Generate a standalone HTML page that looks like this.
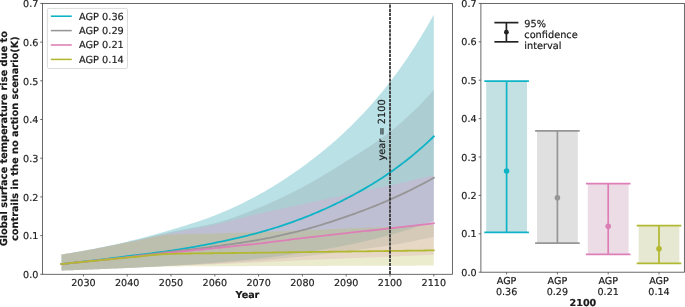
<!DOCTYPE html>
<html><head><meta charset="utf-8"><title>chart</title>
<style>html,body{margin:0;padding:0;background:#fff}svg{display:block}</style></head>
<body>
<svg width="685" height="307" viewBox="0 0 685 307" font-family='"DejaVu Sans", "Liberation Sans", sans-serif' font-size="9.6" fill="#1a1a1a" stroke="#1a1a1a" stroke-width="0.18" text-rendering="geometricPrecision">
<rect width="685" height="307" fill="#fff" stroke="none"/>
<polygon points="61.50,254.56 63.69,254.21 65.88,253.85 68.07,253.49 70.26,253.12 72.45,252.75 74.64,252.37 76.83,251.99 79.02,251.60 81.21,251.21 83.40,250.81 85.59,250.41 87.78,250.00 89.97,249.59 92.16,249.17 94.35,248.74 96.54,248.31 98.73,247.87 100.92,247.43 103.11,246.98 105.30,246.53 107.49,246.06 109.68,245.60 111.87,245.12 114.06,244.64 116.25,244.16 118.44,243.67 120.63,243.17 122.82,242.67 125.01,242.16 127.20,241.64 129.39,241.12 131.58,240.59 133.77,240.05 135.96,239.51 138.15,238.96 140.34,238.40 142.53,237.84 144.72,237.27 146.91,236.70 149.10,236.11 151.29,235.52 153.48,234.93 155.67,234.32 157.86,233.71 160.05,233.10 162.24,232.47 164.43,231.84 166.62,231.21 168.81,230.56 171.00,229.91 173.19,229.26 175.38,228.60 177.57,227.94 179.76,227.28 181.95,226.61 184.14,225.94 186.33,225.26 188.52,224.57 190.71,223.87 192.90,223.17 195.09,222.46 197.28,221.73 199.47,221.00 201.66,220.25 203.85,219.49 206.04,218.71 208.23,217.92 210.42,217.11 212.61,216.29 214.80,215.44 216.99,214.58 219.18,213.69 221.37,212.79 223.56,211.87 225.75,210.94 227.94,209.98 230.13,209.01 232.32,208.02 234.51,207.01 236.70,205.99 238.89,204.94 241.08,203.88 243.27,202.81 245.46,201.71 247.65,200.60 249.84,199.48 252.03,198.34 254.22,197.18 256.41,196.00 258.60,194.82 260.79,193.61 262.98,192.38 265.17,191.14 267.36,189.87 269.55,188.58 271.74,187.27 273.93,185.95 276.12,184.60 278.31,183.23 280.50,181.84 282.69,180.43 284.88,179.00 287.07,177.55 289.26,176.08 291.45,174.60 293.64,173.09 295.83,171.56 298.02,170.02 300.21,168.46 302.40,166.88 304.59,165.28 306.78,163.66 308.97,162.03 311.16,160.37 313.35,158.69 315.54,157.00 317.73,155.28 319.92,153.54 322.11,151.78 324.30,149.99 326.49,148.18 328.68,146.34 330.87,144.48 333.06,142.59 335.25,140.67 337.44,138.72 339.63,136.74 341.82,134.73 344.01,132.69 346.20,130.62 348.39,128.51 350.58,126.38 352.77,124.21 354.96,122.02 357.15,119.79 359.34,117.53 361.53,115.24 363.72,112.92 365.91,110.56 368.10,108.16 370.29,105.73 372.48,103.26 374.67,100.75 376.86,98.20 379.05,95.61 381.24,92.97 383.43,90.29 385.62,87.57 387.81,84.80 390.00,81.98 392.19,79.11 394.38,76.19 396.57,73.23 398.76,70.22 400.95,67.16 403.14,64.04 405.33,60.88 407.52,57.66 409.71,54.40 411.90,51.07 414.09,47.69 416.28,44.26 418.47,40.77 420.66,37.22 422.85,33.61 425.04,29.94 427.23,26.21 429.42,22.42 431.61,18.56 433.80,14.64 433.80,220.98 431.61,221.78 429.42,222.57 427.23,223.35 425.04,224.12 422.85,224.87 420.66,225.62 418.47,226.35 416.28,227.07 414.09,227.78 411.90,228.49 409.71,229.18 407.52,229.86 405.33,230.53 403.14,231.19 400.95,231.84 398.76,232.48 396.57,233.11 394.38,233.73 392.19,234.34 390.00,234.95 387.81,235.54 385.62,236.12 383.43,236.70 381.24,237.27 379.05,237.83 376.86,238.38 374.67,238.92 372.48,239.46 370.29,239.99 368.10,240.51 365.91,241.02 363.72,241.52 361.53,242.02 359.34,242.50 357.15,242.98 354.96,243.46 352.77,243.92 350.58,244.38 348.39,244.83 346.20,245.28 344.01,245.71 341.82,246.14 339.63,246.57 337.44,246.98 335.25,247.40 333.06,247.80 330.87,248.20 328.68,248.59 326.49,248.97 324.30,249.35 322.11,249.73 319.92,250.10 317.73,250.46 315.54,250.82 313.35,251.17 311.16,251.52 308.97,251.86 306.78,252.20 304.59,252.53 302.40,252.86 300.21,253.19 298.02,253.51 295.83,253.82 293.64,254.13 291.45,254.44 289.26,254.74 287.07,255.04 284.88,255.33 282.69,255.62 280.50,255.90 278.31,256.18 276.12,256.46 273.93,256.73 271.74,256.99 269.55,257.26 267.36,257.52 265.17,257.77 262.98,258.02 260.79,258.27 258.60,258.51 256.41,258.75 254.22,258.99 252.03,259.22 249.84,259.44 247.65,259.67 245.46,259.89 243.27,260.11 241.08,260.32 238.89,260.53 236.70,260.74 234.51,260.94 232.32,261.15 230.13,261.34 227.94,261.54 225.75,261.73 223.56,261.92 221.37,262.11 219.18,262.29 216.99,262.47 214.80,262.65 212.61,262.83 210.42,263.00 208.23,263.17 206.04,263.34 203.85,263.51 201.66,263.67 199.47,263.83 197.28,263.99 195.09,264.14 192.90,264.30 190.71,264.45 188.52,264.60 186.33,264.74 184.14,264.89 181.95,265.03 179.76,265.17 177.57,265.31 175.38,265.44 173.19,265.58 171.00,265.71 168.81,265.84 166.62,265.97 164.43,266.09 162.24,266.21 160.05,266.33 157.86,266.45 155.67,266.57 153.48,266.68 151.29,266.79 149.10,266.91 146.91,267.02 144.72,267.12 142.53,267.23 140.34,267.34 138.15,267.44 135.96,267.55 133.77,267.65 131.58,267.75 129.39,267.85 127.20,267.95 125.01,268.05 122.82,268.15 120.63,268.25 118.44,268.34 116.25,268.44 114.06,268.53 111.87,268.62 109.68,268.71 107.49,268.80 105.30,268.89 103.11,268.98 100.92,269.07 98.73,269.15 96.54,269.24 94.35,269.32 92.16,269.41 89.97,269.49 87.78,269.57 85.59,269.65 83.40,269.73 81.21,269.81 79.02,269.89 76.83,269.97 74.64,270.05 72.45,270.13 70.26,270.21 68.07,270.28 65.88,270.36 63.69,270.43 61.50,270.51" fill="rgb(24,157,171)" fill-opacity="0.3" stroke="none"/>
<polygon points="61.50,254.56 63.69,254.21 65.88,253.86 68.07,253.50 70.26,253.14 72.45,252.77 74.64,252.40 76.83,252.03 79.02,251.65 81.21,251.27 83.40,250.89 85.59,250.50 87.78,250.11 89.97,249.72 92.16,249.32 94.35,248.92 96.54,248.51 98.73,248.10 100.92,247.68 103.11,247.26 105.30,246.84 107.49,246.41 109.68,245.97 111.87,245.53 114.06,245.09 116.25,244.64 118.44,244.19 120.63,243.73 122.82,243.27 125.01,242.81 127.20,242.34 129.39,241.86 131.58,241.37 133.77,240.87 135.96,240.36 138.15,239.84 140.34,239.32 142.53,238.79 144.72,238.25 146.91,237.71 149.10,237.17 151.29,236.62 153.48,236.08 155.67,235.54 157.86,235.00 160.05,234.47 162.24,233.94 164.43,233.42 166.62,232.91 168.81,232.41 171.00,231.93 173.19,231.46 175.38,231.01 177.57,230.57 179.76,230.14 181.95,229.73 184.14,229.32 186.33,228.92 188.52,228.53 190.71,228.13 192.90,227.74 195.09,227.34 197.28,226.94 199.47,226.53 201.66,226.11 203.85,225.68 206.04,225.23 208.23,224.76 210.42,224.27 212.61,223.76 214.80,223.22 216.99,222.65 219.18,222.05 221.37,221.43 223.56,220.78 225.75,220.11 227.94,219.42 230.13,218.70 232.32,217.96 234.51,217.20 236.70,216.43 238.89,215.63 241.08,214.82 243.27,214.00 245.46,213.16 247.65,212.31 249.84,211.45 252.03,210.58 254.22,209.70 256.41,208.82 258.60,207.93 260.79,207.04 262.98,206.13 265.17,205.21 267.36,204.26 269.55,203.30 271.74,202.33 273.93,201.34 276.12,200.33 278.31,199.31 280.50,198.28 282.69,197.23 284.88,196.17 287.07,195.09 289.26,194.00 291.45,192.90 293.64,191.79 295.83,190.66 298.02,189.53 300.21,188.38 302.40,187.23 304.59,186.06 306.78,184.88 308.97,183.68 311.16,182.46 313.35,181.23 315.54,179.98 317.73,178.72 319.92,177.45 322.11,176.16 324.30,174.85 326.49,173.54 328.68,172.21 330.87,170.88 333.06,169.53 335.25,168.18 337.44,166.81 339.63,165.44 341.82,164.07 344.01,162.69 346.20,161.30 348.39,159.92 350.58,158.54 352.77,157.16 354.96,155.79 357.15,154.41 359.34,153.02 361.53,151.64 363.72,150.24 365.91,148.83 368.10,147.41 370.29,145.97 372.48,144.52 374.67,143.04 376.86,141.54 379.05,140.02 381.24,138.46 383.43,136.87 385.62,135.24 387.81,133.57 390.00,131.86 392.19,130.10 394.38,128.32 396.57,126.50 398.76,124.65 400.95,122.76 403.14,120.84 405.33,118.89 407.52,116.90 409.71,114.87 411.90,112.81 414.09,110.71 416.28,108.57 418.47,106.39 420.66,104.17 422.85,101.91 425.04,99.61 427.23,97.27 429.42,94.89 431.61,92.46 433.80,89.99 433.80,236.73 431.61,237.23 429.42,237.72 427.23,238.20 425.04,238.68 422.85,239.14 420.66,239.60 418.47,240.05 416.28,240.49 414.09,240.93 411.90,241.36 409.71,241.78 407.52,242.19 405.33,242.59 403.14,242.99 400.95,243.38 398.76,243.77 396.57,244.14 394.38,244.52 392.19,244.88 390.00,245.24 387.81,245.59 385.62,245.93 383.43,246.27 381.24,246.59 379.05,246.91 376.86,247.23 374.67,247.54 372.48,247.84 370.29,248.14 368.10,248.44 365.91,248.73 363.72,249.02 361.53,249.31 359.34,249.59 357.15,249.88 354.96,250.16 352.77,250.44 350.58,250.72 348.39,251.00 346.20,251.28 344.01,251.55 341.82,251.83 339.63,252.11 337.44,252.38 335.25,252.65 333.06,252.92 330.87,253.19 328.68,253.45 326.49,253.72 324.30,253.98 322.11,254.24 319.92,254.49 317.73,254.74 315.54,254.99 313.35,255.24 311.16,255.48 308.97,255.72 306.78,255.96 304.59,256.19 302.40,256.42 300.21,256.65 298.02,256.87 295.83,257.10 293.64,257.32 291.45,257.54 289.26,257.75 287.07,257.97 284.88,258.18 282.69,258.39 280.50,258.59 278.31,258.79 276.12,258.99 273.93,259.19 271.74,259.38 269.55,259.58 267.36,259.76 265.17,259.95 262.98,260.13 260.79,260.31 258.60,260.49 256.41,260.66 254.22,260.83 252.03,261.00 249.84,261.16 247.65,261.33 245.46,261.49 243.27,261.64 241.08,261.80 238.89,261.95 236.70,262.11 234.51,262.26 232.32,262.40 230.13,262.55 227.94,262.69 225.75,262.83 223.56,262.97 221.37,263.11 219.18,263.24 216.99,263.37 214.80,263.50 212.61,263.63 210.42,263.76 208.23,263.88 206.04,263.99 203.85,264.11 201.66,264.22 199.47,264.34 197.28,264.45 195.09,264.56 192.90,264.66 190.71,264.77 188.52,264.88 186.33,264.99 184.14,265.09 181.95,265.20 179.76,265.31 177.57,265.42 175.38,265.53 173.19,265.64 171.00,265.75 168.81,265.86 166.62,265.97 164.43,266.09 162.24,266.20 160.05,266.32 157.86,266.43 155.67,266.54 153.48,266.66 151.29,266.77 149.10,266.89 146.91,267.00 144.72,267.11 142.53,267.22 140.34,267.33 138.15,267.44 135.96,267.54 133.77,267.65 131.58,267.75 129.39,267.85 127.20,267.95 125.01,268.05 122.82,268.15 120.63,268.25 118.44,268.34 116.25,268.44 114.06,268.53 111.87,268.62 109.68,268.71 107.49,268.80 105.30,268.89 103.11,268.98 100.92,269.07 98.73,269.15 96.54,269.24 94.35,269.32 92.16,269.41 89.97,269.49 87.78,269.57 85.59,269.65 83.40,269.73 81.21,269.81 79.02,269.89 76.83,269.97 74.64,270.05 72.45,270.13 70.26,270.21 68.07,270.28 65.88,270.36 63.69,270.43 61.50,270.51" fill="rgb(143,159,165)" fill-opacity="0.3" stroke="none"/>
<polygon points="61.50,254.56 63.69,254.21 65.88,253.86 68.07,253.50 70.26,253.14 72.45,252.77 74.64,252.40 76.83,252.02 79.02,251.65 81.21,251.27 83.40,250.89 85.59,250.50 87.78,250.11 89.97,249.72 92.16,249.32 94.35,248.92 96.54,248.51 98.73,248.09 100.92,247.68 103.11,247.26 105.30,246.83 107.49,246.40 109.68,245.97 111.87,245.54 114.06,245.10 116.25,244.66 118.44,244.22 120.63,243.78 122.82,243.34 125.01,242.89 127.20,242.45 129.39,242.01 131.58,241.56 133.77,241.11 135.96,240.65 138.15,240.20 140.34,239.74 142.53,239.28 144.72,238.81 146.91,238.35 149.10,237.88 151.29,237.42 153.48,236.95 155.67,236.48 157.86,236.02 160.05,235.56 162.24,235.09 164.43,234.64 166.62,234.18 168.81,233.73 171.00,233.28 173.19,232.84 175.38,232.40 177.57,231.97 179.76,231.55 181.95,231.13 184.14,230.71 186.33,230.30 188.52,229.89 190.71,229.47 192.90,229.06 195.09,228.65 197.28,228.23 199.47,227.82 201.66,227.39 203.85,226.96 206.04,226.53 208.23,226.08 210.42,225.63 212.61,225.17 214.80,224.69 216.99,224.20 219.18,223.70 221.37,223.18 223.56,222.65 225.75,222.11 227.94,221.56 230.13,221.01 232.32,220.45 234.51,219.88 236.70,219.31 238.89,218.73 241.08,218.16 243.27,217.58 245.46,217.01 247.65,216.44 249.84,215.88 252.03,215.33 254.22,214.79 256.41,214.26 258.60,213.74 260.79,213.23 262.98,212.73 265.17,212.24 267.36,211.75 269.55,211.27 271.74,210.79 273.93,210.31 276.12,209.84 278.31,209.37 280.50,208.90 282.69,208.44 284.88,207.98 287.07,207.52 289.26,207.05 291.45,206.59 293.64,206.13 295.83,205.67 298.02,205.20 300.21,204.73 302.40,204.26 304.59,203.78 306.78,203.31 308.97,202.83 311.16,202.36 313.35,201.88 315.54,201.41 317.73,200.94 319.92,200.46 322.11,199.99 324.30,199.51 326.49,199.04 328.68,198.56 330.87,198.09 333.06,197.62 335.25,197.14 337.44,196.67 339.63,196.20 341.82,195.72 344.01,195.25 346.20,194.78 348.39,194.31 350.58,193.84 352.77,193.37 354.96,192.90 357.15,192.44 359.34,191.97 361.53,191.51 363.72,191.04 365.91,190.58 368.10,190.11 370.29,189.65 372.48,189.18 374.67,188.72 376.86,188.25 379.05,187.77 381.24,187.30 383.43,186.82 385.62,186.34 387.81,185.86 390.00,185.37 392.19,184.88 394.38,184.39 396.57,183.90 398.76,183.40 400.95,182.90 403.14,182.40 405.33,181.90 407.52,181.40 409.71,180.89 411.90,180.38 414.09,179.87 416.28,179.36 418.47,178.85 420.66,178.33 422.85,177.81 425.04,177.29 427.23,176.77 429.42,176.25 431.61,175.72 433.80,175.20 433.80,254.68 431.61,254.78 429.42,254.88 427.23,254.98 425.04,255.08 422.85,255.18 420.66,255.28 418.47,255.38 416.28,255.48 414.09,255.58 411.90,255.67 409.71,255.77 407.52,255.87 405.33,255.96 403.14,256.06 400.95,256.15 398.76,256.24 396.57,256.34 394.38,256.43 392.19,256.52 390.00,256.62 387.81,256.71 385.62,256.80 383.43,256.88 381.24,256.97 379.05,257.06 376.86,257.15 374.67,257.23 372.48,257.32 370.29,257.40 368.10,257.49 365.91,257.57 363.72,257.66 361.53,257.74 359.34,257.83 357.15,257.91 354.96,258.00 352.77,258.09 350.58,258.18 348.39,258.27 346.20,258.36 344.01,258.45 341.82,258.54 339.63,258.63 337.44,258.72 335.25,258.82 333.06,258.91 330.87,259.00 328.68,259.09 326.49,259.19 324.30,259.28 322.11,259.38 319.92,259.47 317.73,259.57 315.54,259.66 313.35,259.76 311.16,259.86 308.97,259.96 306.78,260.05 304.59,260.15 302.40,260.25 300.21,260.35 298.02,260.46 295.83,260.56 293.64,260.66 291.45,260.77 289.26,260.87 287.07,260.98 284.88,261.09 282.69,261.19 280.50,261.30 278.31,261.41 276.12,261.51 273.93,261.62 271.74,261.73 269.55,261.83 267.36,261.93 265.17,262.04 262.98,262.14 260.79,262.24 258.60,262.34 256.41,262.44 254.22,262.54 252.03,262.64 249.84,262.74 247.65,262.83 245.46,262.93 243.27,263.03 241.08,263.12 238.89,263.22 236.70,263.31 234.51,263.41 232.32,263.50 230.13,263.60 227.94,263.69 225.75,263.78 223.56,263.88 221.37,263.97 219.18,264.06 216.99,264.15 214.80,264.24 212.61,264.33 210.42,264.42 208.23,264.50 206.04,264.59 203.85,264.67 201.66,264.75 199.47,264.83 197.28,264.92 195.09,265.00 192.90,265.08 190.71,265.16 188.52,265.25 186.33,265.33 184.14,265.41 181.95,265.50 179.76,265.58 177.57,265.67 175.38,265.76 173.19,265.85 171.00,265.94 168.81,266.04 166.62,266.13 164.43,266.23 162.24,266.33 160.05,266.43 157.86,266.53 155.67,266.63 153.48,266.74 151.29,266.84 149.10,266.95 146.91,267.05 144.72,267.15 142.53,267.26 140.34,267.36 138.15,267.46 135.96,267.56 133.77,267.66 131.58,267.76 129.39,267.86 127.20,267.95 125.01,268.05 122.82,268.14 120.63,268.24 118.44,268.33 116.25,268.42 114.06,268.52 111.87,268.61 109.68,268.70 107.49,268.79 105.30,268.88 103.11,268.97 100.92,269.06 98.73,269.15 96.54,269.23 94.35,269.32 92.16,269.40 89.97,269.49 87.78,269.57 85.59,269.65 83.40,269.73 81.21,269.81 79.02,269.89 76.83,269.97 74.64,270.05 72.45,270.13 70.26,270.21 68.07,270.28 65.88,270.36 63.69,270.43 61.50,270.51" fill="rgb(235,160,216)" fill-opacity="0.3" stroke="none"/>
<polygon points="61.50,254.56 63.69,254.21 65.88,253.86 68.07,253.50 70.26,253.14 72.45,252.77 74.64,252.40 76.83,252.02 79.02,251.65 81.21,251.27 83.40,250.89 85.59,250.50 87.78,250.11 89.97,249.71 92.16,249.30 94.35,248.89 96.54,248.47 98.73,248.05 100.92,247.62 103.11,247.19 105.30,246.76 107.49,246.32 109.68,245.89 111.87,245.45 114.06,245.01 116.25,244.58 118.44,244.14 120.63,243.71 122.82,243.29 125.01,242.87 127.20,242.45 129.39,242.03 131.58,241.59 133.77,241.14 135.96,240.67 138.15,240.19 140.34,239.71 142.53,239.22 144.72,238.73 146.91,238.25 149.10,237.78 151.29,237.32 153.48,236.88 155.67,236.46 157.86,236.07 160.05,235.70 162.24,235.38 164.43,235.10 166.62,234.87 168.81,234.68 171.00,234.56 173.19,234.47 175.38,234.38 177.57,234.31 179.76,234.24 181.95,234.18 184.14,234.12 186.33,234.07 188.52,234.02 190.71,233.97 192.90,233.93 195.09,233.89 197.28,233.84 199.47,233.80 201.66,233.76 203.85,233.72 206.04,233.68 208.23,233.63 210.42,233.59 212.61,233.53 214.80,233.47 216.99,233.41 219.18,233.35 221.37,233.29 223.56,233.23 225.75,233.16 227.94,233.10 230.13,233.04 232.32,232.97 234.51,232.90 236.70,232.84 238.89,232.77 241.08,232.70 243.27,232.63 245.46,232.56 247.65,232.49 249.84,232.42 252.03,232.34 254.22,232.27 256.41,232.20 258.60,232.12 260.79,232.04 262.98,231.96 265.17,231.88 267.36,231.80 269.55,231.72 271.74,231.64 273.93,231.55 276.12,231.46 278.31,231.38 280.50,231.29 282.69,231.20 284.88,231.11 287.07,231.02 289.26,230.93 291.45,230.84 293.64,230.75 295.83,230.65 298.02,230.56 300.21,230.47 302.40,230.38 304.59,230.29 306.78,230.19 308.97,230.10 311.16,230.00 313.35,229.90 315.54,229.80 317.73,229.70 319.92,229.60 322.11,229.50 324.30,229.40 326.49,229.30 328.68,229.20 330.87,229.10 333.06,229.00 335.25,228.90 337.44,228.81 339.63,228.71 341.82,228.62 344.01,228.53 346.20,228.44 348.39,228.36 350.58,228.28 352.77,228.20 354.96,228.12 357.15,228.04 359.34,227.97 361.53,227.90 363.72,227.82 365.91,227.75 368.10,227.68 370.29,227.61 372.48,227.53 374.67,227.46 376.86,227.38 379.05,227.31 381.24,227.23 383.43,227.15 385.62,227.07 387.81,226.98 390.00,226.90 392.19,226.81 394.38,226.71 396.57,226.62 398.76,226.52 400.95,226.43 403.14,226.33 405.33,226.23 407.52,226.12 409.71,226.02 411.90,225.91 414.09,225.81 416.28,225.70 418.47,225.59 420.66,225.47 422.85,225.36 425.04,225.24 427.23,225.13 429.42,225.01 431.61,224.89 433.80,224.77 433.80,265.55 431.61,265.56 429.42,265.57 427.23,265.58 425.04,265.59 422.85,265.60 420.66,265.61 418.47,265.61 416.28,265.62 414.09,265.63 411.90,265.64 409.71,265.64 407.52,265.65 405.33,265.66 403.14,265.67 400.95,265.67 398.76,265.68 396.57,265.69 394.38,265.70 392.19,265.70 390.00,265.71 387.81,265.72 385.62,265.72 383.43,265.73 381.24,265.73 379.05,265.74 376.86,265.75 374.67,265.75 372.48,265.76 370.29,265.76 368.10,265.77 365.91,265.77 363.72,265.78 361.53,265.79 359.34,265.79 357.15,265.80 354.96,265.80 352.77,265.81 350.58,265.81 348.39,265.82 346.20,265.83 344.01,265.83 341.82,265.84 339.63,265.84 337.44,265.85 335.25,265.85 333.06,265.86 330.87,265.86 328.68,265.87 326.49,265.88 324.30,265.88 322.11,265.89 319.92,265.89 317.73,265.90 315.54,265.90 313.35,265.91 311.16,265.92 308.97,265.92 306.78,265.93 304.59,265.93 302.40,265.94 300.21,265.95 298.02,265.96 295.83,265.96 293.64,265.97 291.45,265.98 289.26,265.99 287.07,265.99 284.88,266.00 282.69,266.01 280.50,266.02 278.31,266.03 276.12,266.04 273.93,266.04 271.74,266.05 269.55,266.06 267.36,266.07 265.17,266.07 262.98,266.08 260.79,266.09 258.60,266.10 256.41,266.10 254.22,266.11 252.03,266.11 249.84,266.12 247.65,266.13 245.46,266.13 243.27,266.14 241.08,266.14 238.89,266.15 236.70,266.15 234.51,266.16 232.32,266.16 230.13,266.17 227.94,266.17 225.75,266.18 223.56,266.18 221.37,266.19 219.18,266.20 216.99,266.20 214.80,266.21 212.61,266.22 210.42,266.23 208.23,266.24 206.04,266.25 203.85,266.26 201.66,266.27 199.47,266.28 197.28,266.29 195.09,266.30 192.90,266.31 190.71,266.32 188.52,266.34 186.33,266.35 184.14,266.37 181.95,266.38 179.76,266.40 177.57,266.42 175.38,266.44 173.19,266.46 171.00,266.48 168.81,266.51 166.62,266.55 164.43,266.60 162.24,266.66 160.05,266.73 157.86,266.80 155.67,266.88 153.48,266.96 151.29,267.05 149.10,267.14 146.91,267.24 144.72,267.33 142.53,267.43 140.34,267.53 138.15,267.62 135.96,267.72 133.77,267.81 131.58,267.90 129.39,267.99 127.20,268.07 125.01,268.15 122.82,268.23 120.63,268.32 118.44,268.40 116.25,268.49 114.06,268.57 111.87,268.66 109.68,268.74 107.49,268.83 105.30,268.91 103.11,269.00 100.92,269.08 98.73,269.17 96.54,269.25 94.35,269.33 92.16,269.41 89.97,269.50 87.78,269.58 85.59,269.66 83.40,269.73 81.21,269.81 79.02,269.89 76.83,269.97 74.64,270.05 72.45,270.13 70.26,270.20 68.07,270.28 65.88,270.36 63.69,270.43 61.50,270.51" fill="rgb(185,192,88)" fill-opacity="0.3" stroke="none"/>
<polyline points="61.50,264.01 63.69,263.79 65.88,263.56 68.07,263.34 70.26,263.11 72.45,262.88 74.64,262.64 76.83,262.41 79.02,262.17 81.21,261.93 83.40,261.68 85.59,261.44 87.78,261.19 89.97,260.94 92.16,260.68 94.35,260.42 96.54,260.15 98.73,259.88 100.92,259.61 103.11,259.33 105.30,259.06 107.49,258.78 109.68,258.49 111.87,258.21 114.06,257.93 116.25,257.64 118.44,257.36 120.63,257.07 122.82,256.79 125.01,256.51 127.20,256.23 129.39,255.95 131.58,255.68 133.77,255.41 135.96,255.14 138.15,254.87 140.34,254.61 142.53,254.34 144.72,254.08 146.91,253.81 149.10,253.55 151.29,253.28 153.48,253.01 155.67,252.74 157.86,252.46 160.05,252.18 162.24,251.89 164.43,251.59 166.62,251.29 168.81,250.98 171.00,250.66 173.19,250.33 175.38,249.99 177.57,249.65 179.76,249.30 181.95,248.94 184.14,248.58 186.33,248.21 188.52,247.83 190.71,247.45 192.90,247.07 195.09,246.67 197.28,246.27 199.47,245.87 201.66,245.46 203.85,245.04 206.04,244.62 208.23,244.19 210.42,243.76 212.61,243.32 214.80,242.88 216.99,242.43 219.18,241.98 221.37,241.52 223.56,241.06 225.75,240.59 227.94,240.12 230.13,239.64 232.32,239.15 234.51,238.66 236.70,238.15 238.89,237.65 241.08,237.13 243.27,236.60 245.46,236.07 247.65,235.53 249.84,234.98 252.03,234.41 254.22,233.84 256.41,233.26 258.60,232.66 260.79,232.06 262.98,231.44 265.17,230.81 267.36,230.17 269.55,229.51 271.74,228.85 273.93,228.17 276.12,227.49 278.31,226.79 280.50,226.07 282.69,225.35 284.88,224.61 287.07,223.87 289.26,223.11 291.45,222.34 293.64,221.55 295.83,220.76 298.02,219.95 300.21,219.14 302.40,218.31 304.59,217.46 306.78,216.60 308.97,215.73 311.16,214.85 313.35,213.94 315.54,213.03 317.73,212.10 319.92,211.15 322.11,210.19 324.30,209.22 326.49,208.23 328.68,207.22 330.87,206.20 333.06,205.17 335.25,204.12 337.44,203.05 339.63,201.97 341.82,200.88 344.01,199.77 346.20,198.65 348.39,197.51 350.58,196.36 352.77,195.19 354.96,194.01 357.15,192.81 359.34,191.60 361.53,190.37 363.72,189.12 365.91,187.85 368.10,186.57 370.29,185.27 372.48,183.94 374.67,182.59 376.86,181.23 379.05,179.84 381.24,178.43 383.43,176.99 385.62,175.53 387.81,174.04 390.00,172.53 392.19,170.99 394.38,169.42 396.57,167.83 398.76,166.21 400.95,164.57 403.14,162.90 405.33,161.20 407.52,159.47 409.71,157.72 411.90,155.93 414.09,154.12 416.28,152.28 418.47,150.40 420.66,148.50 422.85,146.56 425.04,144.59 427.23,142.59 429.42,140.56 431.61,138.49 433.80,136.38" fill="none" stroke="#0fb3c6" stroke-width="1.8" stroke-linecap="square" stroke-linejoin="round"/>
<polyline points="61.50,264.01 63.69,263.79 65.88,263.57 68.07,263.35 70.26,263.12 72.45,262.90 74.64,262.67 76.83,262.44 79.02,262.21 81.21,261.99 83.40,261.76 85.59,261.54 87.78,261.31 89.97,261.09 92.16,260.86 94.35,260.63 96.54,260.40 98.73,260.17 100.92,259.94 103.11,259.71 105.30,259.47 107.49,259.24 109.68,259.00 111.87,258.76 114.06,258.52 116.25,258.28 118.44,258.04 120.63,257.79 122.82,257.54 125.01,257.29 127.20,257.04 129.39,256.79 131.58,256.53 133.77,256.27 135.96,256.01 138.15,255.74 140.34,255.47 142.53,255.20 144.72,254.93 146.91,254.66 149.10,254.39 151.29,254.12 153.48,253.84 155.67,253.57 157.86,253.29 160.05,253.02 162.24,252.74 164.43,252.47 166.62,252.20 168.81,251.93 171.00,251.66 173.19,251.40 175.38,251.14 177.57,250.88 179.76,250.62 181.95,250.37 184.14,250.11 186.33,249.86 188.52,249.61 190.71,249.36 192.90,249.11 195.09,248.85 197.28,248.60 199.47,248.34 201.66,248.08 203.85,247.82 206.04,247.56 208.23,247.28 210.42,247.01 212.61,246.73 214.80,246.44 216.99,246.15 219.18,245.85 221.37,245.55 223.56,245.25 225.75,244.95 227.94,244.65 230.13,244.34 232.32,244.03 234.51,243.71 236.70,243.39 238.89,243.07 241.08,242.74 243.27,242.41 245.46,242.06 247.65,241.72 249.84,241.36 252.03,241.00 254.22,240.63 256.41,240.25 258.60,239.86 260.79,239.46 262.98,239.05 265.17,238.64 267.36,238.21 269.55,237.78 271.74,237.33 273.93,236.88 276.12,236.41 278.31,235.94 280.50,235.46 282.69,234.97 284.88,234.47 287.07,233.97 289.26,233.45 291.45,232.93 293.64,232.39 295.83,231.85 298.02,231.31 300.21,230.75 302.40,230.19 304.59,229.61 306.78,229.02 308.97,228.43 311.16,227.81 313.35,227.19 315.54,226.56 317.73,225.91 319.92,225.25 322.11,224.58 324.30,223.90 326.49,223.21 328.68,222.52 330.87,221.81 333.06,221.09 335.25,220.37 337.44,219.63 339.63,218.89 341.82,218.15 344.01,217.40 346.20,216.64 348.39,215.88 350.58,215.11 352.77,214.33 354.96,213.54 357.15,212.75 359.34,211.94 361.53,211.13 363.72,210.31 365.91,209.47 368.10,208.63 370.29,207.78 372.48,206.92 374.67,206.04 376.86,205.16 379.05,204.27 381.24,203.36 383.43,202.44 385.62,201.51 387.81,200.57 390.00,199.61 392.19,198.65 394.38,197.67 396.57,196.67 398.76,195.67 400.95,194.65 403.14,193.62 405.33,192.58 407.52,191.53 409.71,190.46 411.90,189.38 414.09,188.28 416.28,187.17 418.47,186.05 420.66,184.91 422.85,183.76 425.04,182.60 427.23,181.42 429.42,180.22 431.61,179.01 433.80,177.79" fill="none" stroke="#969696" stroke-width="1.8" stroke-linecap="square" stroke-linejoin="round"/>
<polyline points="61.50,264.01 63.69,263.79 65.88,263.58 68.07,263.36 70.26,263.15 72.45,262.93 74.64,262.71 76.83,262.49 79.02,262.27 81.21,262.05 83.40,261.84 85.59,261.63 87.78,261.41 89.97,261.20 92.16,260.98 94.35,260.77 96.54,260.55 98.73,260.33 100.92,260.11 103.11,259.90 105.30,259.68 107.49,259.46 109.68,259.24 111.87,259.01 114.06,258.79 116.25,258.57 118.44,258.34 120.63,258.12 122.82,257.89 125.01,257.66 127.20,257.43 129.39,257.20 131.58,256.96 133.77,256.72 135.96,256.49 138.15,256.25 140.34,256.01 142.53,255.76 144.72,255.52 146.91,255.28 149.10,255.03 151.29,254.79 153.48,254.55 155.67,254.30 157.86,254.06 160.05,253.82 162.24,253.58 164.43,253.34 166.62,253.10 168.81,252.86 171.00,252.63 173.19,252.40 175.38,252.17 177.57,251.94 179.76,251.72 181.95,251.49 184.14,251.27 186.33,251.05 188.52,250.83 190.71,250.61 192.90,250.39 195.09,250.17 197.28,249.95 199.47,249.73 201.66,249.52 203.85,249.30 206.04,249.08 208.23,248.85 210.42,248.63 212.61,248.41 214.80,248.18 216.99,247.95 219.18,247.73 221.37,247.50 223.56,247.27 225.75,247.05 227.94,246.82 230.13,246.59 232.32,246.37 234.51,246.14 236.70,245.91 238.89,245.68 241.08,245.45 243.27,245.22 245.46,244.99 247.65,244.75 249.84,244.51 252.03,244.27 254.22,244.03 256.41,243.78 258.60,243.54 260.79,243.28 262.98,243.03 265.17,242.76 267.36,242.50 269.55,242.23 271.74,241.96 273.93,241.69 276.12,241.41 278.31,241.14 280.50,240.86 282.69,240.58 284.88,240.30 287.07,240.02 289.26,239.75 291.45,239.47 293.64,239.19 295.83,238.92 298.02,238.65 300.21,238.38 302.40,238.12 304.59,237.86 306.78,237.60 308.97,237.34 311.16,237.08 313.35,236.83 315.54,236.57 317.73,236.32 319.92,236.06 322.11,235.81 324.30,235.56 326.49,235.31 328.68,235.06 330.87,234.81 333.06,234.56 335.25,234.31 337.44,234.07 339.63,233.82 341.82,233.58 344.01,233.33 346.20,233.09 348.39,232.84 350.58,232.60 352.77,232.37 354.96,232.13 357.15,231.89 359.34,231.66 361.53,231.42 363.72,231.19 365.91,230.96 368.10,230.73 370.29,230.49 372.48,230.26 374.67,230.03 376.86,229.80 379.05,229.56 381.24,229.33 383.43,229.09 385.62,228.85 387.81,228.61 390.00,228.37 392.19,228.12 394.38,227.88 396.57,227.63 398.76,227.38 400.95,227.13 403.14,226.88 405.33,226.63 407.52,226.38 409.71,226.13 411.90,225.88 414.09,225.62 416.28,225.37 418.47,225.11 420.66,224.85 422.85,224.60 425.04,224.34 427.23,224.08 429.42,223.82 431.61,223.56 433.80,223.30" fill="none" stroke="#dd7fb7" stroke-width="1.8" stroke-linecap="square" stroke-linejoin="round"/>
<polyline points="61.50,264.01 63.69,263.79 65.88,263.58 68.07,263.36 70.26,263.14 72.45,262.92 74.64,262.70 76.83,262.48 79.02,262.27 81.21,262.05 83.40,261.84 85.59,261.63 87.78,261.42 89.97,261.21 92.16,260.99 94.35,260.78 96.54,260.57 98.73,260.35 100.92,260.14 103.11,259.93 105.30,259.71 107.49,259.50 109.68,259.28 111.87,259.07 114.06,258.86 116.25,258.65 118.44,258.44 120.63,258.23 122.82,258.03 125.01,257.82 127.20,257.62 129.39,257.42 131.58,257.20 133.77,256.98 135.96,256.76 138.15,256.53 140.34,256.30 142.53,256.07 144.72,255.83 146.91,255.61 149.10,255.38 151.29,255.16 153.48,254.95 155.67,254.75 157.86,254.57 160.05,254.40 162.24,254.24 164.43,254.10 166.62,253.99 168.81,253.90 171.00,253.83 173.19,253.78 175.38,253.73 177.57,253.69 179.76,253.65 181.95,253.61 184.14,253.57 186.33,253.54 188.52,253.51 190.71,253.48 192.90,253.46 195.09,253.43 197.28,253.40 199.47,253.38 201.66,253.36 203.85,253.33 206.04,253.31 208.23,253.29 210.42,253.26 212.61,253.24 214.80,253.21 216.99,253.18 219.18,253.16 221.37,253.13 223.56,253.10 225.75,253.08 227.94,253.05 230.13,253.03 232.32,253.01 234.51,252.98 236.70,252.96 238.89,252.93 241.08,252.91 243.27,252.89 245.46,252.86 247.65,252.84 249.84,252.81 252.03,252.79 254.22,252.76 256.41,252.73 258.60,252.71 260.79,252.68 262.98,252.65 265.17,252.62 267.36,252.59 269.55,252.56 271.74,252.53 273.93,252.50 276.12,252.46 278.31,252.43 280.50,252.40 282.69,252.37 284.88,252.34 287.07,252.30 289.26,252.27 291.45,252.24 293.64,252.21 295.83,252.18 298.02,252.15 300.21,252.12 302.40,252.09 304.59,252.06 306.78,252.03 308.97,252.00 311.16,251.98 313.35,251.95 315.54,251.92 317.73,251.89 319.92,251.87 322.11,251.84 324.30,251.81 326.49,251.79 328.68,251.76 330.87,251.74 333.06,251.71 335.25,251.68 337.44,251.66 339.63,251.63 341.82,251.60 344.01,251.57 346.20,251.55 348.39,251.52 350.58,251.49 352.77,251.46 354.96,251.43 357.15,251.40 359.34,251.37 361.53,251.35 363.72,251.32 365.91,251.29 368.10,251.26 370.29,251.23 372.48,251.20 374.67,251.17 376.86,251.14 379.05,251.11 381.24,251.08 383.43,251.05 385.62,251.02 387.81,250.99 390.00,250.97 392.19,250.94 394.38,250.91 396.57,250.88 398.76,250.85 400.95,250.82 403.14,250.79 405.33,250.76 407.52,250.73 409.71,250.70 411.90,250.68 414.09,250.65 416.28,250.62 418.47,250.59 420.66,250.56 422.85,250.53 425.04,250.50 427.23,250.47 429.42,250.44 431.61,250.41 433.80,250.39" fill="none" stroke="#b2b830" stroke-width="1.8" stroke-linecap="square" stroke-linejoin="round"/>
<line x1="390.00" y1="274.3" x2="390.00" y2="3.42" stroke="#333" stroke-width="1.75" stroke-dasharray="3.2 0.9"/>
<text transform="translate(384.5,160.5) rotate(-90)" font-size="9.8">year = 2100</text>
<rect x="42.45" y="3.42" width="410.05" height="270.88" fill="none" stroke="#505050" stroke-width="0.85"/>
<line x1="40.25" y1="274.30" x2="42.45" y2="274.30" stroke="#505050" stroke-width="0.85"/>
<text x="38.35" y="278.00" text-anchor="end">0.0</text>
<line x1="40.25" y1="235.60" x2="42.45" y2="235.60" stroke="#505050" stroke-width="0.85"/>
<text x="38.35" y="239.30" text-anchor="end">0.1</text>
<line x1="40.25" y1="196.91" x2="42.45" y2="196.91" stroke="#505050" stroke-width="0.85"/>
<text x="38.35" y="200.61" text-anchor="end">0.2</text>
<line x1="40.25" y1="158.21" x2="42.45" y2="158.21" stroke="#505050" stroke-width="0.85"/>
<text x="38.35" y="161.91" text-anchor="end">0.3</text>
<line x1="40.25" y1="119.51" x2="42.45" y2="119.51" stroke="#505050" stroke-width="0.85"/>
<text x="38.35" y="123.21" text-anchor="end">0.4</text>
<line x1="40.25" y1="80.81" x2="42.45" y2="80.81" stroke="#505050" stroke-width="0.85"/>
<text x="38.35" y="84.51" text-anchor="end">0.5</text>
<line x1="40.25" y1="42.12" x2="42.45" y2="42.12" stroke="#505050" stroke-width="0.85"/>
<text x="38.35" y="45.82" text-anchor="end">0.6</text>
<line x1="40.25" y1="3.42" x2="42.45" y2="3.42" stroke="#505050" stroke-width="0.85"/>
<text x="38.35" y="7.12" text-anchor="end">0.7</text>
<line x1="83.40" y1="274.3" x2="83.40" y2="276.5" stroke="#505050" stroke-width="0.85"/>
<text x="83.40" y="285.7" text-anchor="middle">2030</text>
<line x1="127.20" y1="274.3" x2="127.20" y2="276.5" stroke="#505050" stroke-width="0.85"/>
<text x="127.20" y="285.7" text-anchor="middle">2040</text>
<line x1="171.00" y1="274.3" x2="171.00" y2="276.5" stroke="#505050" stroke-width="0.85"/>
<text x="171.00" y="285.7" text-anchor="middle">2050</text>
<line x1="214.80" y1="274.3" x2="214.80" y2="276.5" stroke="#505050" stroke-width="0.85"/>
<text x="214.80" y="285.7" text-anchor="middle">2060</text>
<line x1="258.60" y1="274.3" x2="258.60" y2="276.5" stroke="#505050" stroke-width="0.85"/>
<text x="258.60" y="285.7" text-anchor="middle">2070</text>
<line x1="302.40" y1="274.3" x2="302.40" y2="276.5" stroke="#505050" stroke-width="0.85"/>
<text x="302.40" y="285.7" text-anchor="middle">2080</text>
<line x1="346.20" y1="274.3" x2="346.20" y2="276.5" stroke="#505050" stroke-width="0.85"/>
<text x="346.20" y="285.7" text-anchor="middle">2090</text>
<line x1="390.00" y1="274.3" x2="390.00" y2="276.5" stroke="#505050" stroke-width="0.85"/>
<text x="390.00" y="285.7" text-anchor="middle">2100</text>
<line x1="433.80" y1="274.3" x2="433.80" y2="276.5" stroke="#505050" stroke-width="0.85"/>
<text x="433.80" y="285.7" text-anchor="middle">2110</text>
<text x="247.47" y="297.6" text-anchor="middle" font-weight="bold">Year</text>
<text transform="translate(7.45,138.7) rotate(-90)" text-anchor="middle" font-weight="bold" font-size="9.79">Global surface temperature rise due to</text>
<text transform="translate(17.8,138.6) rotate(-90)" text-anchor="middle" font-weight="bold" font-size="9.79">contrails in the no action scenario(K)</text>
<rect x="47.4" y="8.4" width="80.1" height="60.1" rx="1.6" fill="#fff" fill-opacity="0.8" stroke="#d2d2d2" stroke-width="0.8"/>
<line x1="51.6" y1="16.20" x2="71" y2="16.20" stroke="#0fb3c6" stroke-width="1.55" stroke-linecap="square"/>
<text x="79.05" y="19.65" font-size="9.75">AGP 0.36</text>
<line x1="51.6" y1="30.60" x2="71" y2="30.60" stroke="#969696" stroke-width="1.55" stroke-linecap="square"/>
<text x="79.05" y="34.05" font-size="9.75">AGP 0.29</text>
<line x1="51.6" y1="45.00" x2="71" y2="45.00" stroke="#dd7fb7" stroke-width="1.55" stroke-linecap="square"/>
<text x="79.05" y="48.45" font-size="9.75">AGP 0.21</text>
<line x1="51.6" y1="59.40" x2="71" y2="59.40" stroke="#b2b830" stroke-width="1.55" stroke-linecap="square"/>
<text x="79.05" y="62.85" font-size="9.75">AGP 0.14</text>
<rect x="486.20" y="81.20" width="40.8" height="151.10" fill="#c3e1e3" stroke="none"/>
<line x1="506.60" y1="81.20" x2="506.60" y2="232.30" stroke="#0fb3c6" stroke-width="1.7"/>
<line x1="484.30" y1="81.20" x2="528.90" y2="81.20" stroke="#0fb3c6" stroke-width="1.7"/>
<line x1="484.30" y1="232.30" x2="528.90" y2="232.30" stroke="#0fb3c6" stroke-width="1.7"/>
<circle cx="506.60" cy="171.00" r="2.8" fill="#0fb3c6" stroke="none"/>
<text x="506.60" y="283.75" text-anchor="middle">AGP</text>
<text x="506.60" y="294.55" text-anchor="middle">0.36</text>
<line x1="506.60" y1="272.2" x2="506.60" y2="274.4" stroke="#505050" stroke-width="0.85"/>
<rect x="537.00" y="130.80" width="40.8" height="112.25" fill="#e0e0e0" stroke="none"/>
<line x1="557.40" y1="130.80" x2="557.40" y2="243.05" stroke="#969696" stroke-width="1.7"/>
<line x1="535.10" y1="130.80" x2="579.70" y2="130.80" stroke="#969696" stroke-width="1.7"/>
<line x1="535.10" y1="243.05" x2="579.70" y2="243.05" stroke="#969696" stroke-width="1.7"/>
<circle cx="557.40" cy="197.80" r="2.8" fill="#969696" stroke="none"/>
<text x="557.40" y="283.75" text-anchor="middle">AGP</text>
<text x="557.40" y="294.55" text-anchor="middle">0.29</text>
<line x1="557.40" y1="272.2" x2="557.40" y2="274.4" stroke="#505050" stroke-width="0.85"/>
<rect x="587.80" y="183.70" width="40.8" height="70.60" fill="#ecdce6" stroke="none"/>
<line x1="608.20" y1="183.70" x2="608.20" y2="254.30" stroke="#dd7fb7" stroke-width="1.7"/>
<line x1="585.90" y1="183.70" x2="630.50" y2="183.70" stroke="#dd7fb7" stroke-width="1.7"/>
<line x1="585.90" y1="254.30" x2="630.50" y2="254.30" stroke="#dd7fb7" stroke-width="1.7"/>
<circle cx="608.20" cy="226.30" r="2.8" fill="#dd7fb7" stroke="none"/>
<text x="608.20" y="283.75" text-anchor="middle">AGP</text>
<text x="608.20" y="294.55" text-anchor="middle">0.21</text>
<line x1="608.20" y1="272.2" x2="608.20" y2="274.4" stroke="#505050" stroke-width="0.85"/>
<rect x="638.60" y="225.70" width="40.8" height="37.60" fill="#e6e8d2" stroke="none"/>
<line x1="659.00" y1="225.70" x2="659.00" y2="263.30" stroke="#b2b830" stroke-width="1.7"/>
<line x1="636.70" y1="225.70" x2="681.30" y2="225.70" stroke="#b2b830" stroke-width="1.7"/>
<line x1="636.70" y1="263.30" x2="681.30" y2="263.30" stroke="#b2b830" stroke-width="1.7"/>
<circle cx="659.00" cy="248.70" r="2.8" fill="#b2b830" stroke="none"/>
<text x="659.00" y="283.75" text-anchor="middle">AGP</text>
<text x="659.00" y="294.55" text-anchor="middle">0.14</text>
<line x1="659.00" y1="272.2" x2="659.00" y2="274.4" stroke="#505050" stroke-width="0.85"/>
<rect x="480.9" y="3.42" width="203.5" height="268.78" fill="none" stroke="#505050" stroke-width="0.85"/>
<line x1="478.7" y1="272.20" x2="480.9" y2="272.20" stroke="#505050" stroke-width="0.85"/>
<text x="476.60" y="275.75" text-anchor="end">0.0</text>
<line x1="478.7" y1="233.80" x2="480.9" y2="233.80" stroke="#505050" stroke-width="0.85"/>
<text x="476.60" y="237.35" text-anchor="end">0.1</text>
<line x1="478.7" y1="195.41" x2="480.9" y2="195.41" stroke="#505050" stroke-width="0.85"/>
<text x="476.60" y="198.96" text-anchor="end">0.2</text>
<line x1="478.7" y1="157.01" x2="480.9" y2="157.01" stroke="#505050" stroke-width="0.85"/>
<text x="476.60" y="160.56" text-anchor="end">0.3</text>
<line x1="478.7" y1="118.61" x2="480.9" y2="118.61" stroke="#505050" stroke-width="0.85"/>
<text x="476.60" y="122.16" text-anchor="end">0.4</text>
<line x1="478.7" y1="80.21" x2="480.9" y2="80.21" stroke="#505050" stroke-width="0.85"/>
<text x="476.60" y="83.76" text-anchor="end">0.5</text>
<line x1="478.7" y1="41.82" x2="480.9" y2="41.82" stroke="#505050" stroke-width="0.85"/>
<text x="476.60" y="45.37" text-anchor="end">0.6</text>
<line x1="478.7" y1="3.42" x2="480.9" y2="3.42" stroke="#505050" stroke-width="0.85"/>
<text x="476.60" y="6.97" text-anchor="end">0.7</text>
<text x="582.95" y="306.1" text-anchor="middle" font-weight="bold">2100</text>
<line x1="506.4" y1="22.62" x2="506.4" y2="41.82" stroke="#222" stroke-width="1.7"/>
<line x1="494.4" y1="22.62" x2="518.4" y2="22.62" stroke="#222" stroke-width="1.7"/>
<line x1="494.4" y1="41.82" x2="518.4" y2="41.82" stroke="#222" stroke-width="1.7"/>
<circle cx="506.4" cy="32.22" r="2.4" fill="#222" stroke="none"/>
<text x="524.3" y="27.35" font-size="9.75">95%</text>
<text x="524.3" y="38.45" font-size="9.75">confidence</text>
<text x="524.3" y="49.45" font-size="9.75">interval</text>
</svg>
</body></html>
